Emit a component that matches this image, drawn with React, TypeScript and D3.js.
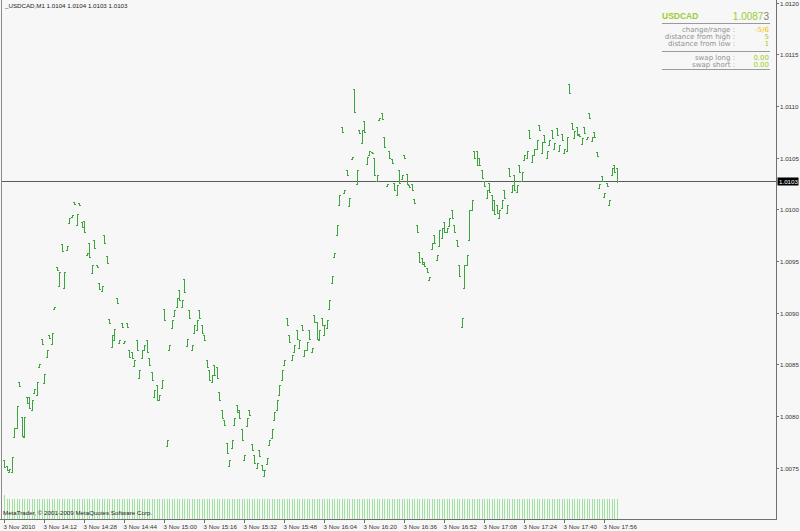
import React from "react";
import * as d3 from "d3";

const titleText = "_USDCAD,M1";
const timeLabels = ["3 Nov 2010","3 Nov 14:12","3 Nov 14:28","3 Nov 14:44","3 Nov 15:00","3 Nov 15:16","3 Nov 15:32","3 Nov 15:48","3 Nov 16:04","3 Nov 16:20","3 Nov 16:36","3 Nov 16:52","3 Nov 17:08","3 Nov 17:24","3 Nov 17:40","3 Nov 17:56"];
const barsPerLabel = 16;
const priceTicks = [1.0075, 1.008, 1.0085, 1.009, 1.0095, 1.01, 1.0105, 1.011, 1.0115, 1.012];
const bidPrice = 1.01028;

const highs = [
1.00757,1.00752,1.00749,1.00760,1.00788,1.00810,1.00833,1.00799,1.00799,1.00818,
1.00818,1.00816,1.00826,1.00833,1.00850,1.00875,1.00841,1.00864,1.00878,1.00880,
1.00906,1.00944,1.00939,1.00967,1.00939,1.00965,1.00992,1.00995,1.01007,1.00996,
1.01006,1.00988,1.00989,1.00958,1.00968,1.00946,1.00970,1.00946,1.00929,1.00926,
1.00975,1.00955,1.00894,1.00878,1.00884,1.00914,1.00874,1.00890,1.00873,1.00890,
1.00864,1.00862,1.00854,1.00874,1.00845,1.00864,1.00869,1.00874,1.00856,1.00843,
1.00825,1.00830,1.00820,1.00835,1.00904,1.00777,1.00869,1.00893,1.00903,1.00914,
1.00922,1.00912,1.00933,1.00875,1.00903,1.00869,1.00888,1.00893,1.00903,1.00888,
1.00878,1.00854,1.00845,1.00840,1.00849,1.00847,1.00823,1.00806,1.00796,1.00774,
1.00757,1.00777,1.00798,1.00811,1.00806,1.00787,1.00762,1.00798,1.00806,1.00773,
1.00762,1.00755,1.00767,1.00753,1.00748,1.00759,1.00777,1.00787,1.00804,1.00816,
1.00830,1.00845,1.00854,1.00895,1.00878,1.00859,1.00869,1.00883,1.00874,1.00888,
1.00864,1.00872,1.00883,1.00866,1.00898,1.00891,1.00883,1.00895,1.00888,1.00893,
1.00912,1.00936,1.00958,1.00985,1.01014,1.01080,1.01019,1.01038,1.01011,1.01051,
1.01117,1.01038,1.01077,1.01077,1.01086,1.01051,1.01057,1.01056,1.01050,1.01033,
1.01089,1.01093,1.01070,1.01025,1.01057,1.01049,1.01026,1.01024,1.01038,1.01033,
1.01053,1.01034,1.01024,1.01025,1.01010,1.00985,1.00959,1.00953,1.00949,1.00943,
1.00935,1.00968,1.00975,1.00956,1.00980,1.00982,1.00988,1.00982,1.00992,1.00999,
1.00985,1.00970,1.00946,1.00895,1.00946,1.00956,1.00999,1.01009,1.01057,1.01057,
1.01050,1.01038,1.01028,1.01019,1.01026,1.01014,1.01009,1.01004,1.00999,1.01009,
1.01019,1.01004,1.01040,1.01024,1.01033,1.01024,1.01043,1.01036,1.01053,1.01057,
1.01077,1.01053,1.01059,1.01067,1.01082,1.01065,1.01072,1.01057,1.01067,1.01077,
1.01064,1.01079,1.01062,1.01073,1.01059,1.01070,1.01121,1.01084,1.01076,1.01080,
1.01073,1.01069,1.01080,1.01070,1.01093,1.01070,1.01075,1.01056,1.01025,1.01032,
1.01016,1.01026,1.01009,1.01040,1.01043,1.01040];

const lows = [
1.00751,1.00748,1.00746,1.00746,1.00780,1.00788,1.00829,1.00781,1.00780,1.00813,
1.00808,1.00806,1.00822,1.00820,1.00847,1.00870,1.00832,1.00857,1.00876,1.00870,
1.00904,1.00941,1.00926,1.00960,1.00924,1.00961,1.00987,1.00993,1.01005,1.00985,
1.01004,1.00983,1.00978,1.00956,1.00954,1.00938,1.00963,1.00944,1.00923,1.00921,
1.00968,1.00948,1.00890,1.00867,1.00874,1.00909,1.00871,1.00886,1.00871,1.00886,
1.00857,1.00856,1.00848,1.00864,1.00837,1.00856,1.00864,1.00862,1.00849,1.00835,
1.00818,1.00816,1.00816,1.00827,1.00893,1.00771,1.00864,1.00885,1.00897,1.00906,
1.00912,1.00906,1.00920,1.00868,1.00895,1.00864,1.00880,1.00883,1.00895,1.00880,
1.00874,1.00847,1.00835,1.00833,1.00840,1.00837,1.00816,1.00798,1.00791,1.00764,
1.00752,1.00769,1.00791,1.00804,1.00798,1.00777,1.00757,1.00790,1.00801,1.00767,
1.00755,1.00750,1.00761,1.00748,1.00742,1.00754,1.00772,1.00779,1.00796,1.00806,
1.00820,1.00835,1.00849,1.00888,1.00872,1.00854,1.00862,1.00875,1.00866,1.00883,
1.00858,1.00864,1.00875,1.00862,1.00891,1.00875,1.00874,1.00888,1.00878,1.00885,
1.00904,1.00929,1.00954,1.00975,1.01004,1.01075,1.01016,1.01033,1.01003,1.01049,
1.01094,1.01025,1.01074,1.01064,1.01075,1.01044,1.01053,1.01055,1.01033,1.01028,
1.01087,1.01088,1.01060,1.01023,1.01050,1.01045,1.01019,1.01014,1.01026,1.01029,
1.01050,1.01025,1.01022,1.01019,1.01006,1.00978,1.00949,1.00947,1.00945,1.00939,
1.00932,1.00962,1.00968,1.00951,1.00965,1.00972,1.00978,1.00978,1.00984,1.00992,
1.00978,1.00965,1.00936,1.00886,1.00924,1.00946,1.00970,1.00999,1.01050,1.01043,
1.01043,1.01030,1.01023,1.01011,1.01017,1.00999,1.00996,1.00997,1.00992,1.01001,
1.01011,1.00997,1.01032,1.01017,1.01019,1.01017,1.01036,1.01028,1.01048,1.01050,
1.01069,1.01046,1.01053,1.01059,1.01077,1.01055,1.01065,1.01050,1.01062,1.01069,
1.01059,1.01072,1.01057,1.01067,1.01055,1.01057,1.01113,1.01078,1.01069,1.01072,
1.01071,1.01063,1.01074,1.01068,1.01089,1.01066,1.01070,1.01052,1.01021,1.01028,
1.01012,1.01023,1.01004,1.01033,1.01036,1.01027];

const opens = [
1.00757,1.00752,1.00746,1.00746,1.00780,1.00788,1.00833,1.00799,1.00780,1.00818,
1.00818,1.00806,1.00822,1.00820,1.00847,1.00875,1.00832,1.00857,1.00878,1.00870,
1.00904,1.00944,1.00926,1.00967,1.00924,1.00961,1.00987,1.00993,1.01007,1.00985,
1.01006,1.00988,1.00989,1.00956,1.00968,1.00938,1.00970,1.00946,1.00929,1.00921,
1.00975,1.00955,1.00894,1.00867,1.00874,1.00914,1.00871,1.00890,1.00871,1.00890,
1.00864,1.00862,1.00848,1.00874,1.00837,1.00856,1.00864,1.00874,1.00856,1.00843,
1.00818,1.00830,1.00816,1.00827,1.00904,1.00771,1.00864,1.00885,1.00897,1.00906,
1.00922,1.00906,1.00933,1.00868,1.00903,1.00864,1.00880,1.00883,1.00903,1.00888,
1.00878,1.00854,1.00845,1.00833,1.00849,1.00847,1.00823,1.00806,1.00796,1.00774,
1.00752,1.00769,1.00791,1.00811,1.00806,1.00787,1.00757,1.00790,1.00806,1.00773,
1.00762,1.00750,1.00767,1.00753,1.00742,1.00754,1.00772,1.00779,1.00796,1.00806,
1.00820,1.00835,1.00849,1.00895,1.00878,1.00854,1.00862,1.00883,1.00866,1.00888,
1.00858,1.00864,1.00883,1.00862,1.00898,1.00891,1.00874,1.00895,1.00878,1.00885,
1.00904,1.00929,1.00954,1.00975,1.01004,1.01080,1.01016,1.01038,1.01003,1.01049,
1.01117,1.01025,1.01077,1.01064,1.01086,1.01044,1.01053,1.01056,1.01050,1.01028,
1.01087,1.01093,1.01070,1.01023,1.01057,1.01049,1.01026,1.01014,1.01038,1.01029,
1.01053,1.01034,1.01024,1.01025,1.01010,1.00985,1.00959,1.00953,1.00949,1.00943,
1.00932,1.00962,1.00975,1.00951,1.00965,1.00972,1.00988,1.00978,1.00984,1.00999,
1.00985,1.00970,1.00946,1.00886,1.00924,1.00946,1.00970,1.00999,1.01057,1.01057,
1.01050,1.01038,1.01028,1.01011,1.01026,1.01014,1.01009,1.01004,1.00992,1.01001,
1.01019,1.00997,1.01040,1.01017,1.01033,1.01017,1.01043,1.01028,1.01048,1.01050,
1.01077,1.01046,1.01053,1.01059,1.01082,1.01055,1.01072,1.01050,1.01062,1.01077,
1.01059,1.01079,1.01057,1.01073,1.01055,1.01057,1.01121,1.01084,1.01069,1.01080,
1.01073,1.01063,1.01080,1.01068,1.01093,1.01066,1.01075,1.01056,1.01021,1.01032,
1.01012,1.01026,1.01004,1.01033,1.01043,1.01040];

const closes = [
1.00751,1.00748,1.00749,1.00760,1.00788,1.00810,1.00829,1.00781,1.00799,1.00813,
1.00808,1.00816,1.00826,1.00833,1.00850,1.00870,1.00841,1.00864,1.00876,1.00880,
1.00906,1.00941,1.00939,1.00960,1.00939,1.00965,1.00992,1.00995,1.01005,1.00996,
1.01004,1.00983,1.00978,1.00958,1.00954,1.00946,1.00963,1.00944,1.00923,1.00926,
1.00968,1.00948,1.00890,1.00878,1.00884,1.00909,1.00874,1.00886,1.00873,1.00886,
1.00857,1.00856,1.00854,1.00864,1.00845,1.00864,1.00869,1.00862,1.00849,1.00835,
1.00825,1.00816,1.00820,1.00835,1.00893,1.00777,1.00869,1.00893,1.00903,1.00914,
1.00912,1.00912,1.00920,1.00875,1.00895,1.00869,1.00888,1.00893,1.00895,1.00880,
1.00874,1.00847,1.00835,1.00840,1.00840,1.00837,1.00816,1.00798,1.00791,1.00764,
1.00757,1.00777,1.00798,1.00804,1.00798,1.00777,1.00762,1.00798,1.00801,1.00767,
1.00755,1.00755,1.00761,1.00748,1.00748,1.00759,1.00777,1.00787,1.00804,1.00816,
1.00830,1.00845,1.00854,1.00888,1.00872,1.00859,1.00869,1.00875,1.00874,1.00883,
1.00864,1.00872,1.00875,1.00866,1.00891,1.00875,1.00883,1.00888,1.00888,1.00893,
1.00912,1.00936,1.00958,1.00985,1.01014,1.01075,1.01019,1.01033,1.01011,1.01051,
1.01094,1.01038,1.01074,1.01077,1.01075,1.01051,1.01057,1.01055,1.01033,1.01033,
1.01089,1.01088,1.01060,1.01025,1.01050,1.01045,1.01019,1.01024,1.01026,1.01033,
1.01050,1.01025,1.01022,1.01019,1.01006,1.00978,1.00949,1.00947,1.00945,1.00939,
1.00935,1.00968,1.00968,1.00956,1.00980,1.00982,1.00978,1.00982,1.00992,1.00992,
1.00978,1.00965,1.00936,1.00895,1.00946,1.00956,1.00999,1.01009,1.01050,1.01043,
1.01043,1.01030,1.01023,1.01019,1.01017,1.00999,1.00996,1.00997,1.00999,1.01009,
1.01011,1.01004,1.01032,1.01024,1.01019,1.01024,1.01036,1.01036,1.01053,1.01057,
1.01069,1.01053,1.01059,1.01067,1.01077,1.01065,1.01065,1.01057,1.01067,1.01069,
1.01064,1.01072,1.01062,1.01067,1.01059,1.01070,1.01113,1.01078,1.01076,1.01072,
1.01071,1.01069,1.01074,1.01070,1.01089,1.01070,1.01070,1.01052,1.01025,1.01028,
1.01016,1.01023,1.01009,1.01040,1.01036,1.01028];

const volumes = [
24,20,20,20,20,20,20,20,20,20,20,20,20,20,20,20,20,20,20,20,
20,20,20,20,20,20,20,20,20,20,20,20,20,20,20,20,20,20,20,20,
20,20,20,20,20,20,20,20,20,20,20,20,20,20,20,20,20,20,20,20,
20,20,20,20,20,20,20,20,20,20,20,20,20,20,20,20,20,20,20,20,
20,20,20,20,20,20,20,20,20,20,20,20,20,20,20,20,20,20,20,20,
20,20,20,20,20,20,20,20,20,20,20,20,20,20,20,20,20,20,20,20,
20,20,20,20,20,20,20,20,20,20,20,20,20,20,20,20,20,20,20,20,
20,20,20,20,20,20,20,20,20,20,20,20,20,20,20,20,20,20,20,20,
20,20,20,20,20,20,20,20,20,20,20,20,20,20,20,20,20,20,20,20,
20,20,20,20,20,20,20,20,20,20,20,20,20,20,20,20,20,20,20,20,
20,20,20,20,20,20,20,20,20,20,20,20,20,20,20,20,20,20,20,20,
20,20,20,20,20,20,20,20,20,20,20,20,20,20,20,20,20,20,20,20,
20,20,20,20,20,20];

const panelSymbol = "USDCAD";
const panelPriceMain = "1.0087";
const panelPriceLast = "3";
const panelRows1 = [
  { label: "change/range :", value: "-5/6", color: "#f2c200" },
  { label: "distance from high :", value: "5", color: "#9acd32" },
  { label: "distance from low :", value: "1", color: "#9acd32" },
];
const panelRows2 = [
  { label: "swap long :", value: "0.00", color: "#9acd32" },
  { label: "swap short :", value: "0.00", color: "#9acd32" },
];

const FONT = "'Liberation Sans', Arial, sans-serif";
const PANEL_FONT = "'DejaVu Sans', Verdana, sans-serif";

export default function App() {
  const W = 800, H = 531;
  const n = Math.min(opens.length, highs.length, lows.length, closes.length);
  const axisX = 776, axisY = 519;
  const x = d3.scaleLinear().domain([0, 1]).range([4, 6.5]);
  const y = d3.scaleLinear().domain([1.0075, 1.012]).range([467.7, 2.85]);
  const v = d3.scaleLinear().domain([0, 20]).range([axisY, 499]);
  const idx = d3.range(n);
  const fmt = (p: number) => p.toFixed(4);
  const last = n - 1;
  const barColor = "#3ea53e";

  return (
    <div style={{ position: "absolute", left: 0, top: 0, width: W, height: H }}>
      <svg width={W} height={H} style={{ display: "block", background: "#f7f7f7", fontFamily: FONT }}>
        {/* volumes */}
        {idx.map((i) => {
          const xc = Math.round(x(i));
          return <rect key={"v" + i} x={xc} y={v(volumes[i])} width={1} height={axisY - v(volumes[i])} fill="#9ee29e" />;
        })}
        <text x={3} y={515} fontSize={6.2} fill="#222">MetaTrader, © 2001-2009 MetaQuotes Software Corp.</text>

        {/* frame */}
        <line x1={1.5} y1={0} x2={1.5} y2={axisY} stroke="#8a8a8a" strokeWidth={1} />
        <line x1={0} y1={axisY + 0.5} x2={axisX} y2={axisY + 0.5} stroke="#707070" strokeWidth={1} />
        <line x1={axisX + 0.5} y1={0} x2={axisX + 0.5} y2={axisY + 1} stroke="#707070" strokeWidth={1} />

        {/* bid line */}
        <line x1={2} y1={Math.round(y(bidPrice)) + 0.5} x2={axisX} y2={Math.round(y(bidPrice)) + 0.5} stroke="#5a5a5a" strokeWidth={1} />

        {/* bars */}
        {idx.map((i) => {
          const xc = Math.round(x(i));
          const yh = Math.round(y(highs[i]));
          const yl = Math.round(y(lows[i]));
          const yo = Math.round(y(opens[i]));
          const ycl = Math.round(y(closes[i]));
          return (
            <g key={"b" + i} fill={barColor}>
              <rect x={xc} y={yh} width={1} height={Math.max(1, yl - yh + 1)} />
              <rect x={xc - 1} y={yo} width={1} height={1} />
              <rect x={xc + 1} y={ycl} width={1} height={1} />
            </g>
          );
        })}

        {/* right axis */}
        {priceTicks.map((p) => {
          const yy = Math.round(y(p)) + 0.5;
          return (
            <g key={"t" + p}>
              <line x1={axisX} y1={yy} x2={axisX + 3} y2={yy} stroke="#707070" />
              <text x={780} y={yy + 2.2} fontSize={6.2} fill="#333">{fmt(p)}</text>
            </g>
          );
        })}
        <rect x={777.5} y={Math.round(y(bidPrice)) - 3.5} width={21} height={8} fill="#000" />
        <text x={779} y={Math.round(y(bidPrice)) + 2.7} fontSize={6.2} fill="#fff">{fmt(bidPrice)}</text>

        {/* bottom axis */}
        {timeLabels.map((t, k) => {
          const xx = Math.round(x(k * barsPerLabel)) + 0.5;
          return (
            <g key={"x" + k}>
              <line x1={xx} y1={axisY} x2={xx} y2={axisY + 4} stroke="#707070" />
              <text x={xx - 1} y={528.5} fontSize={6.2} fill="#333">{t}</text>
            </g>
          );
        })}

        {/* title */}
        <text x={5} y={8} fontSize={6.2} fill="#222">
          {titleText + "  " + [opens[last], highs[last], lows[last], closes[last]].map(fmt).join(" ")}
        </text>

        {/* info panel */}
        <text x={662} y={19} fontSize={8.5} fontWeight="bold" fill="#9acd32">{panelSymbol}</text>
        <text x={769} y={19.5} fontSize={10} textAnchor="end">
          <tspan fill="#9acd32">{panelPriceMain}</tspan>
          <tspan fill="#808080">{panelPriceLast}</tspan>
        </text>
        <line x1={662} y1={23.5} x2={770} y2={23.5} stroke="#9a9a9a" />
        {panelRows1.map((r, k) => (
          <g key={"p1" + k} fontFamily={PANEL_FONT}>
            <text x={735} y={32 + k * 7} fontSize={7} textAnchor="end" fill="#909090">{r.label}</text>
            <text x={769} y={32 + k * 7} fontSize={7} textAnchor="end" fill={r.color}>{r.value}</text>
          </g>
        ))}
        <line x1={662} y1={51.5} x2={770} y2={51.5} stroke="#9a9a9a" />
        {panelRows2.map((r, k) => (
          <g key={"p2" + k} fontFamily={PANEL_FONT}>
            <text x={735} y={60 + k * 6.5} fontSize={7} textAnchor="end" fill="#909090">{r.label}</text>
            <text x={769} y={60 + k * 6.5} fontSize={7} textAnchor="end" fill={r.color}>{r.value}</text>
          </g>
        ))}
        <line x1={662} y1={69.5} x2={770} y2={69.5} stroke="#9a9a9a" />
      </svg>
    </div>
  );
}
